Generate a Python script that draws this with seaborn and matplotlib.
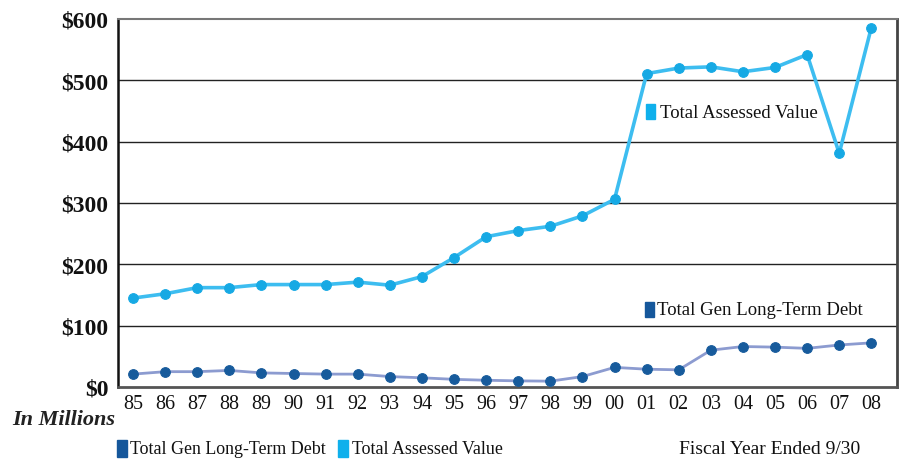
import matplotlib
matplotlib.use("Agg")
import matplotlib.pyplot as plt
import seaborn as sns
import pandas as pd
from matplotlib.patches import Rectangle

years = ["85", "86", "87", "88", "89", "90", "91", "92", "93", "94", "95", "96",
         "97", "98", "99", "00", "01", "02", "03", "04", "05", "06", "07", "08"]
assessed = [145, 152, 162, 162, 167, 167, 167, 171, 166, 180, 211, 245,
            255, 262, 279, 306, 511, 520, 522, 514, 521, 542, 381, 586]
debt = [21, 25, 25, 27, 23, 22, 21, 21, 17, 15, 12.5, 11,
        10, 9.5, 17, 32, 29, 28, 60, 66, 65, 63, 68.5, 72]
yticks = [0, 100, 200, 300, 400, 500, 600]
ytick_labels = ["$0", "$100", "$200", "$300", "$400", "$500", "$600"]

sns.set_theme(style="white")
plt.rcParams['font.family'] = ['Liberation Serif', 'DejaVu Serif']

df = pd.DataFrame({"x": range(len(years)), "assessed": assessed, "debt": debt})

fig = plt.figure(figsize=(9.09, 4.64), dpi=100)
W, H = 909, 464
ax = fig.add_axes([118 / W, 1 - 388 / H, (897 - 118) / W, (388 - 20) / H])

light_line = "#3dbdf0"
light_mark = "#16a9e4"
debt_line = "#8c9bd0"
debt_mark = "#175b9c"

sns.lineplot(data=df, x="x", y="assessed", ax=ax, color=light_line, lw=2.6,
             marker="o", markersize=7, markerfacecolor=light_mark,
             markeredgecolor=light_mark, zorder=4)
sns.lineplot(data=df, x="x", y="debt", ax=ax, color=debt_line, lw=2.0,
             marker="o", markersize=7, markerfacecolor=debt_mark,
             markeredgecolor=debt_mark, zorder=4)

ax.set_xlim(-0.47, len(years) - 1 + 0.8)
ax.set_ylim(0, 600)
ax.set_xticks(range(len(years)))
ax.set_xticklabels(years, fontsize=14.5)
ax.set_yticks(yticks)
ax.set_yticklabels(ytick_labels, fontsize=17, fontweight="bold")
ax.set_xlabel("")
ax.set_ylabel("")
for y in yticks[1:-1]:
    ax.axhline(y, color="#222222", lw=1.0, zorder=1)
ax.tick_params(axis="x", length=0, pad=5, colors="#111111")
ax.tick_params(axis="y", length=0, pad=7, colors="#111111")
ax.spines["left"].set_color("#111111")
ax.spines["left"].set_linewidth(1.8)
ax.spines["top"].set_color("#777777")
ax.spines["top"].set_linewidth(1.5)
ax.spines["right"].set_color("#444444")
ax.spines["right"].set_linewidth(2)
ax.spines["bottom"].set_color("#555555")
ax.spines["bottom"].set_linewidth(2)

# in-plot labels
fig.patches.append(Rectangle((646 / W, 1 - 120 / H), 9 / W, 15 / H,
                             transform=fig.transFigure, color="#0fb0ec"))
fig.text(660 / W, 1 - 114 / H, "Total Assessed Value", fontsize=13.5,
         va="center", ha="left", color="#111111")
fig.patches.append(Rectangle((645 / W, 1 - 318 / H), 9 / W, 15 / H,
                             transform=fig.transFigure, color="#15579b"))
fig.text(657 / W, 1 - 311 / H, "Total Gen Long-Term Debt", fontsize=13.5,
         va="center", ha="left", color="#111111")

# bottom legend and notes
fig.text(12 / W, 1 - 420 / H, "In Millions", fontsize=16, style="italic",
         fontweight="bold", va="center", ha="left", color="#222222")
fig.patches.append(Rectangle((117 / W, 1 - 458 / H), 10 / W, 17 / H,
                             transform=fig.transFigure, color="#15579b"))
fig.text(130 / W, 1 - 450 / H, "Total Gen Long-Term Debt", fontsize=12.9,
         va="center", ha="left", color="#111111")
fig.patches.append(Rectangle((338 / W, 1 - 458 / H), 10 / W, 17 / H,
                             transform=fig.transFigure, color="#0fb0ec"))
fig.text(352 / W, 1 - 450 / H, "Total Assessed Value", fontsize=12.9,
         va="center", ha="left", color="#111111")
fig.text(860 / W, 1 - 450 / H, "Fiscal Year Ended 9/30", fontsize=14,
         va="center", ha="right", color="#111111")

fig.savefig("out.png", dpi=100)
